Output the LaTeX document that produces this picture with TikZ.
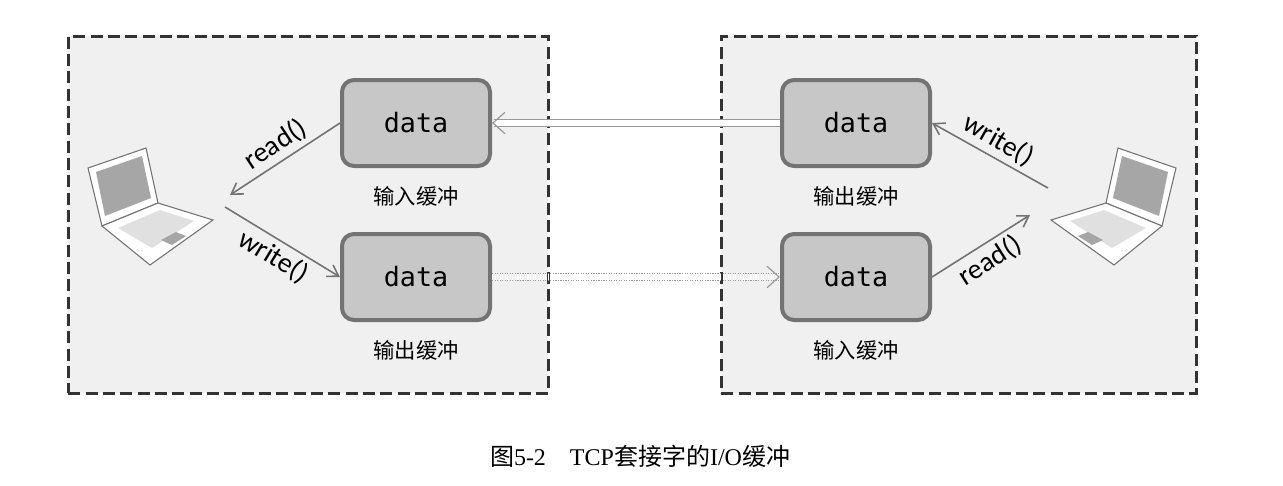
\documentclass[tikz,border=0pt]{standalone}
\usepackage{fontspec}
\setmainfont{Liberation Serif}
\newfontfamily\cjk{Noto Sans CJK SC}
\newfontfamily\cjkserif{Noto Sans CJK SC}
\newfontfamily\lbl{Carlito}
\newfontfamily\mono{DejaVu Sans Mono}
\usetikzlibrary{arrows.meta}
\begin{document}
\begin{tikzpicture}[x=0.75pt,y=-0.75pt,
  panel/.style={draw=black!80,line width=2.2pt,dash pattern=on 9pt off 4pt,fill=black!6},
  buf/.style={draw=black!55,line width=3pt,fill=black!22,rounded corners=9pt,minimum width=148pt*0.75,minimum height=86pt*0.75,font=\mono\fontsize{20}{20}\selectfont},
  bcap/.style={font=\cjk\fontsize{16}{16}\selectfont},
  call/.style={draw=black!55,line width=1.2pt,-{Straight Barb[length=8pt,width=10pt]}},
  fn/.style={font=\lbl\fontsize{21}{21}\selectfont},
  pipe/.style={draw=black!40,double=white,double distance=4pt,line width=0.9pt,-{Straight Barb[length=9pt,width=16pt,line width=0.9pt]}},
  lap/.style={draw=black!55,line width=0.8pt,fill=white}]
\useasboundingbox (0,0) rectangle (1283,486);
\node[panel,minimum width=480*0.75pt,minimum height=357*0.75pt,anchor=north west,inner sep=0] (L) at (67,35) {};
\node[panel,minimum width=475*0.75pt,minimum height=357*0.75pt,anchor=north west,inner sep=0] (R) at (720,35) {};
% buffers
\node[buf] (li) at (416,123) {data};
\node[buf] (lo) at (416,277) {data};
\node[buf] (ro) at (856,123) {data};
\node[buf] (ri) at (856,277) {data};
\node[bcap] (lic) at (416,196) {输入缓冲};
\node[bcap] (loc) at (416,350) {输出缓冲};
\node[bcap] (roc) at (856,196) {输出缓冲};
\node[bcap] (ric) at (856,350) {输入缓冲};
% laptops
\newcommand{\laptop}[2]{%
 \begin{scope}[shift={(#1,#2)}]
  \draw[lap] (0,20) -- (58,0) -- (70,55) -- (14,78) -- cycle;
  \fill[black!35] (8,24) -- (54,8) -- (63,50) -- (17,68) -- cycle;
  \draw[lap] (14,78) -- (70,55) -- (125,72) -- (62,117) -- cycle;
  \fill[black!12] (30,80) -- (72,62) -- (106,73) -- (64,100) -- cycle;
  \fill[black!35] (73,92) -- (88,84) -- (98,88) -- (84,97) -- cycle;
 \end{scope}}
\laptop{88}{148}
\coordinate (lp1) at (230,195);
\coordinate (lp2) at (225,207);
\begin{scope}[xscale=-1,shift={(-2226,0)}]\laptop{1050}{148}\end{scope}
\coordinate (rp1) at (1048,188);
\coordinate (rp2) at (1030,215);
\draw[call] (li.west) -- (lp1) node[midway,above,sloped,fn] {read()};
\draw[call] (lp2) -- (lo.west) node[midway,below,sloped,fn] {write()};
\draw[call] (rp1) -- (ro.east) node[midway,above,sloped,fn] {write()};
\draw[call] (ri.east) -- (rp2) node[midway,below,sloped,fn] {read()};
\draw[pipe] (ro.west) -- (li.east);
\draw[pipe,densely dotted] (lo.east) -- (ri.west);
\node[font=\fontsize{18}{18}\selectfont] (cap) at (640,456) {{\cjkserif 图}5-2\quad TCP{\cjkserif 套接字的}I/O{\cjkserif 缓冲}};
\end{tikzpicture}
\end{document}
